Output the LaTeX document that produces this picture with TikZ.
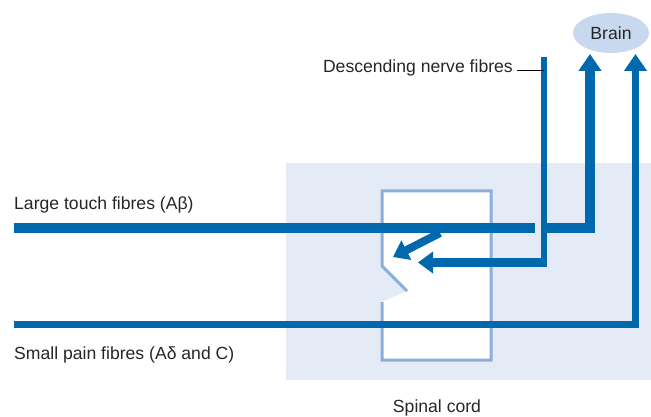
\documentclass[tikz,border=0pt]{standalone}
\usepackage{fontspec}
\setmainfont{Liberation Sans}
\usetikzlibrary{arrows.meta,shapes.geometric}
\definecolor{fibre}{RGB}{0,104,172}
\definecolor{cordbg}{RGB}{228,234,246}
\definecolor{gateline}{RGB}{138,176,218}
\definecolor{brainfill}{RGB}{200,216,238}
\begin{document}
\begin{tikzpicture}[x=1pt, y=-1pt,
  lbl/.style={inner sep=0pt, text=black!85, font=\fontsize{17.6}{20}\selectfont},
  fibreline/.style={draw=fibre, line join=miter},
  uptip/.style={-{Triangle[length=17pt, width=22pt]}},
  gatetip/.style={-{Triangle[length=15pt, width=21pt]}}]
\useasboundingbox (0,0) rectangle (651,417);
% spinal cord region and gate
\fill[cordbg] (286,163) rectangle (651,380);
\fill[white] (382,191) -- (491,191) -- (491,360) -- (382,360) -- (382,302)
  -- (407,291) -- (382,266) -- cycle;
\draw[gateline, line width=3pt, line join=miter]
  (407,291) -- (382,266) -- (382,191) -- (491,191) -- (491,360) -- (382,360) -- (382,302);
% labels
\node[ellipse, fill=brainfill, minimum width=76pt, minimum height=40pt, lbl] (brain) at (611,33) {Brain};
\node[lbl, anchor=base west] (touchlbl) at (14,210) {Large touch fibres (Aβ)};
\node[lbl, anchor=base west] (painlbl) at (14,359) {Small pain fibres (Aδ and C)};
\node[lbl, anchor=base east] (desclbl) at (513,73) {Descending nerve fibres};
\node[lbl, anchor=base] (cordlbl) at (437,412) {Spinal cord};
% fibre coordinates
\coordinate (touchin) at (14,228);
\coordinate (touchcut) at (535,228);
\coordinate (touchgo) at (547,228);
\coordinate (touchup) at (590,228);
\coordinate (touchtop) at (590,54);
\coordinate (painin) at (14,324.5);
\coordinate (painup) at (635.5,324.5);
\coordinate (paintop) at (635.5,54);
\coordinate (desctop) at (544,57);
\coordinate (descbend) at (544,262.5);
\coordinate (descend) at (547,262.5);
\coordinate (desctip) at (418,262.5);
\coordinate (branch) at (440,233);
\coordinate (branchtip) at (393,257);
\coordinate (leaderin) at (517,70);
% fibres
\draw[fibreline, line width=9.5pt] (touchin) -- (touchcut);
\draw[fibreline, line width=9.5pt, uptip] (touchgo) -- (touchup) -- (touchtop);
\draw[fibreline, line width=6.5pt, uptip] (painin) -- (painup) -- (paintop);
\draw[fibreline, line width=6.5pt] (desctop) -- (descbend);
\draw[fibreline, line width=9pt, gatetip] (descend) -- (desctip);
\draw[fibreline, line width=8pt, gatetip] (branch) -- (branchtip);
\draw[black, line width=0.8pt] (leaderin) -- (leaderin -| desctop);
\end{tikzpicture}
\end{document}
